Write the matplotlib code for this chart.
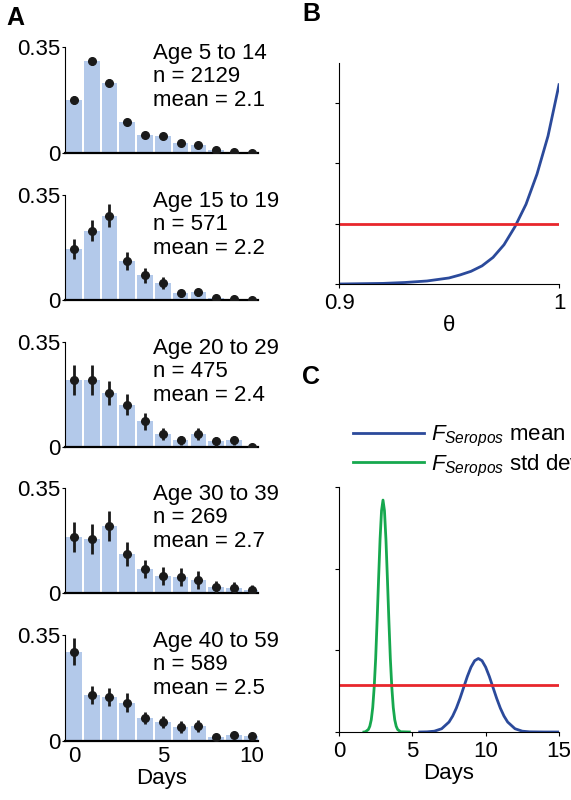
import numpy as np
import matplotlib
matplotlib.use("Agg")
import matplotlib.pyplot as plt

days = list(range(11))
groups = ["Age 5 to 14", "Age 15 to 19", "Age 20 to 29", "Age 30 to 39", "Age 40 to 59"]
ns = [2129, 571, 475, 269, 589]
means = [2.1, 2.2, 2.4, 2.7, 2.5]
vals_5_14 = [0.175, 0.303, 0.232, 0.102, 0.060, 0.055, 0.033, 0.025, 0.011, 0.002, 0.001]
errs_5_14 = [0.012, 0.012, 0.012, 0.009, 0.006, 0.006, 0.005, 0.004, 0.003, 0.002, 0.001]
vals_15_19 = [0.169, 0.231, 0.281, 0.130, 0.082, 0.057, 0.022, 0.026, 0.008, 0.005, 0.0]
errs_15_19 = [0.033, 0.035, 0.038, 0.030, 0.025, 0.020, 0.012, 0.012, 0.006, 0.004, 0.0]
vals_20_29 = [0.224, 0.224, 0.180, 0.141, 0.086, 0.044, 0.022, 0.044, 0.019, 0.022, 0.0]
errs_20_29 = [0.050, 0.050, 0.040, 0.035, 0.028, 0.020, 0.015, 0.020, 0.015, 0.015, 0.0]
vals_30_39 = [0.187, 0.181, 0.224, 0.130, 0.080, 0.056, 0.052, 0.044, 0.019, 0.017, 0.011]
errs_30_39 = [0.050, 0.050, 0.050, 0.040, 0.030, 0.030, 0.030, 0.030, 0.020, 0.020, 0.015]
vals_40_59 = [0.295, 0.153, 0.146, 0.127, 0.076, 0.062, 0.046, 0.050, 0.013, 0.019, 0.015]
errs_40_59 = [0.045, 0.030, 0.030, 0.030, 0.020, 0.020, 0.020, 0.020, 0.010, 0.010, 0.010]
all_vals = [vals_5_14, vals_15_19, vals_20_29, vals_30_39, vals_40_59]
all_errs = [errs_5_14, errs_15_19, errs_20_29, errs_30_39, errs_40_59]

theta = [0.90, 0.91, 0.92, 0.93, 0.94, 0.95, 0.955, 0.96, 0.965, 0.97, 0.975, 0.98, 0.985, 0.99, 0.995, 1.0]
post_theta = [0.0, 0.005, 0.01, 0.025, 0.05, 0.10, 0.15, 0.21, 0.30, 0.44, 0.65, 0.95, 1.32, 1.82, 2.45, 3.3]
thresh_B = 1.0

sd_x = [1.7, 1.8, 2.0, 2.1, 2.2, 2.3, 2.4, 2.5, 2.6, 2.7, 2.8, 2.9, 3.0, 3.1, 3.2, 3.3, 3.4, 3.5, 3.6, 3.7, 3.8, 3.9, 4.0, 4.2, 4.8]
sd_y = [0.0, 0.003, 0.03, 0.07, 0.15, 0.30, 0.55, 0.90, 1.37, 1.88, 2.36, 2.71, 2.84, 2.71, 2.36, 1.88, 1.37, 0.90, 0.55, 0.30, 0.15, 0.07, 0.03, 0.003, 0.0]
mean_x = [5.5, 6.0, 6.5, 7.0, 7.5, 7.75, 8.0, 8.25, 8.5, 8.75, 9.0, 9.25, 9.5, 9.75, 10.0, 10.25, 10.5, 10.75, 11.0, 11.25, 11.5, 12.0, 12.5, 13.0, 14.0, 15.0]
mean_y = [0.0, 0.002, 0.01, 0.04, 0.122, 0.195, 0.292, 0.412, 0.546, 0.68, 0.794, 0.873, 0.9, 0.873, 0.794, 0.68, 0.546, 0.412, 0.292, 0.195, 0.122, 0.04, 0.01, 0.002, 0.0, 0.0]
thresh_C = 0.58

W, H = 571, 800
plt.rcParams['font.family'] = ['Liberation Sans', 'DejaVu Sans']
plt.rcParams['mathtext.fontset'] = 'custom'
plt.rcParams['mathtext.it'] = 'Liberation Sans:italic'
plt.rcParams['mathtext.rm'] = 'Liberation Sans'
fig = plt.figure(figsize=(5.71, 8.0), dpi=100)
FS = 16

def ax_px(x0, y0, x1, y1):
    return fig.add_axes([x0 / W, 1 - y1 / H, (x1 - x0) / W, (y1 - y0) / H])

rows = [(47, 153), (195, 300), (342, 447), (488, 593), (635, 741)]
barc = '#b3c9ea'
for i, (y0, y1) in enumerate(rows):
    ax = ax_px(65, y0, 258, y1)
    ax.bar(days, all_vals[i], width=0.88, color=barc, zorder=1)
    ax.errorbar(days, all_vals[i], yerr=all_errs[i], fmt='o', color='#1a1a1a', ms=5.5,
                elinewidth=2, capsize=0, zorder=3)
    ax.set_xlim(-0.5, 10.35)
    ax.set_ylim(0, 0.35)
    ax.set_yticks([0, 0.35])
    ax.set_yticklabels(['0', '0.35'], fontsize=FS)
    for s in ['top', 'right']:
        ax.spines[s].set_visible(False)
    ax.spines['bottom'].set_linewidth(1.6)
    ax.tick_params(axis='y', length=2, pad=1)
    ax.tick_params(axis='x', length=0)
    if i < 4:
        ax.set_xticks([])
    else:
        ax.set_xticks([0, 5, 10])
        ax.set_xticklabels(['0', '5', '10'], fontsize=FS)
        ax.set_xlabel('Days', fontsize=FS, labelpad=1)
    ax.text(0.455, 1.04, f"{groups[i]}\nn = {ns[i]}\nmean = {means[i]}",
            transform=ax.transAxes, va='top', ha='left', fontsize=FS, linespacing=1.15)

fig.text(6 / W, 1 - 18 / H, 'A', fontsize=18, fontweight='bold', va='center')
fig.text(302 / W, 1 - 14 / H, 'B', fontsize=18, fontweight='bold', va='center')
fig.text(302 / W, 1 - 377 / H, 'C', fontsize=18, fontweight='bold', va='center')

axB = ax_px(339, 63, 559, 284)
axB.plot(theta, post_theta, color='#2b4a9b', lw=2)
axB.axhline(thresh_B, color='#e8262c', lw=2)
axB.set_xlim(0.9, 1.0)
axB.set_ylim(0, 3.66)
axB.set_yticks([0, 1, 2, 3])
axB.set_yticklabels([])
axB.set_xticks([0.9, 1.0])
axB.set_xticklabels(['0.9', '1'], fontsize=FS)
axB.set_xlabel('θ', fontsize=FS, labelpad=1)
axB.tick_params(length=3)
for s in ['top', 'right']:
    axB.spines[s].set_visible(False)

axC = ax_px(339, 487, 559, 732)
l1, = axC.plot(mean_x, mean_y, color='#2b4a9b', lw=2)
l2, = axC.plot(sd_x, sd_y, color='#16a84e', lw=2)
axC.axhline(thresh_C, color='#e8262c', lw=2)
axC.set_xlim(0, 15)
axC.set_ylim(0, 3.0)
axC.set_yticks([0, 1, 2, 3])
axC.set_yticklabels([])
axC.set_xticks([0, 5, 10, 15])
axC.set_xticklabels(['0', '5', '10', '15'], fontsize=FS)
axC.set_xlabel('Days', fontsize=FS, labelpad=1)
axC.tick_params(length=3)
for s in ['top', 'right']:
    axC.spines[s].set_visible(False)
fig.legend([l1, l2], [r'$F_{Seropos}$ mean', r'$F_{Seropos}$ std dev'],
           loc='upper left', bbox_to_anchor=(333 / W, 1 - 404 / H), frameon=False,
           handlelength=3.2, handletextpad=0.3, labelspacing=0.15,
           prop={'size': FS})
fig.savefig('out.png', dpi=100)
